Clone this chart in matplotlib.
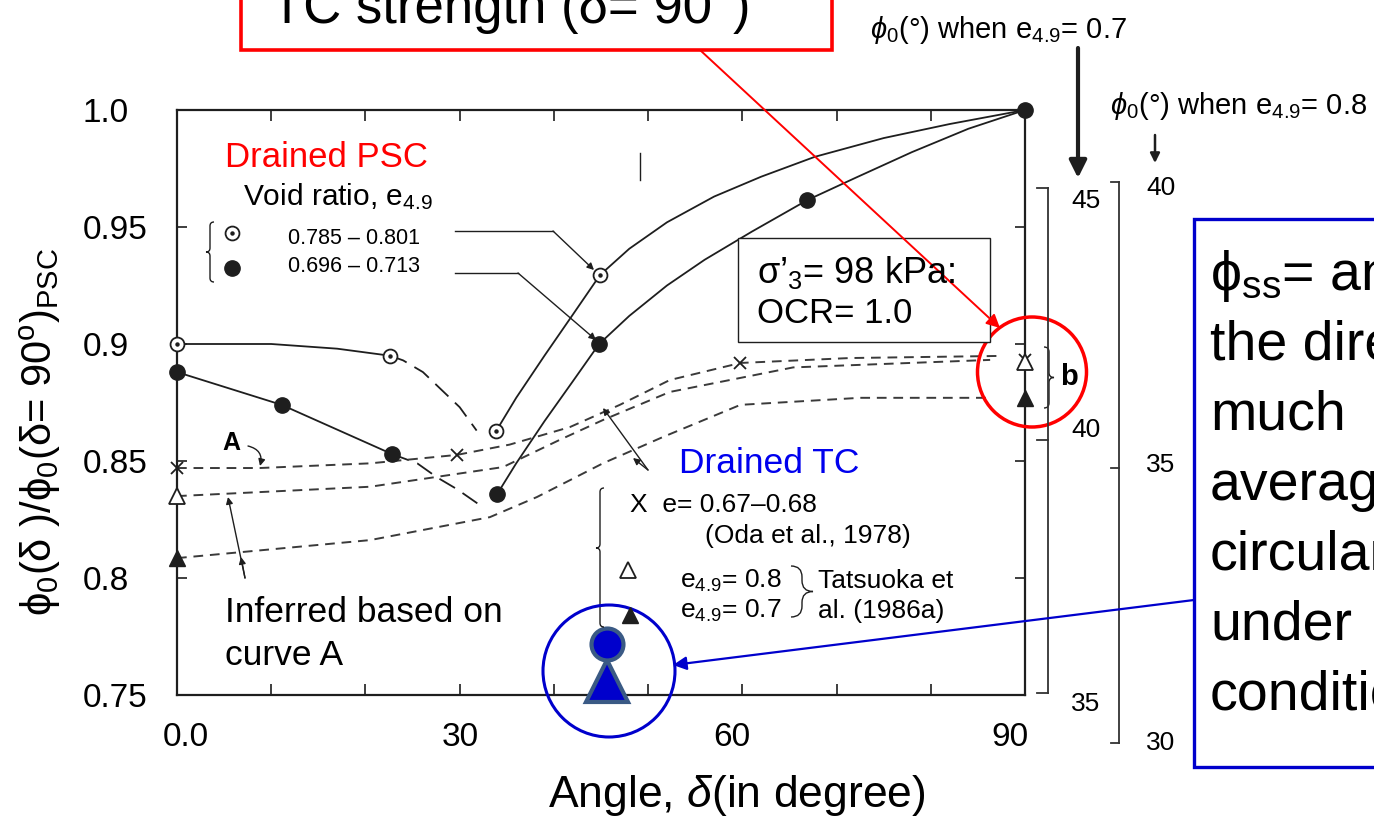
import matplotlib
matplotlib.use('Agg')
import matplotlib.pyplot as plt
from matplotlib.patches import Rectangle, Ellipse, PathPatch
from matplotlib.path import Path

W, H = 1374, 818

plt.rcParams['font.family'] = ['Liberation Sans', 'DejaVu Sans']
plt.rcParams['mathtext.fontset'] = 'custom'
plt.rcParams['mathtext.rm'] = 'Liberation Sans'
plt.rcParams['mathtext.it'] = 'Liberation Sans:italic'
plt.rcParams['mathtext.bf'] = 'Liberation Sans:bold'
plt.rcParams['mathtext.fallback'] = 'stixsans'

INK = '#1e1e1e'
RED = '#ff0000'
BLUE = '#0000cc'

# Drained PSC, loose sand (e4.9 = 0.785-0.801): measured points
psc_loose_x = [0, 22.6, 33.9, 44.9]
psc_loose_y = [0.900, 0.895, 0.863, 0.9295]
# Drained PSC, dense sand (e4.9 = 0.696-0.713): measured points
psc_dense_x = [0, 11.1, 22.8, 34.0, 44.8, 66.9, 90]
psc_dense_y = [0.888, 0.874, 0.853, 0.836, 0.900, 0.9615, 1.0]

# traced fitting curves through the PSC data
loose_flat_x = [0, 10, 17, 22.6]
loose_flat_y = [0.900, 0.900, 0.898, 0.895]
loose_drop_x = [22.6, 24.0, 26.1, 28.7, 30.0, 31.8]
loose_drop_y = [0.895, 0.893, 0.888, 0.878, 0.873, 0.863]
loose_rise_x = [33.9, 36, 39, 42, 44.9, 48, 52, 57, 62, 67.7, 75, 82, 90]
loose_rise_y = [0.863, 0.877, 0.895, 0.9125, 0.9295, 0.9407, 0.952, 0.963,
                0.9715, 0.980, 0.988, 0.994, 1.0]
dense_flat_x = [0, 11.1, 22.8]
dense_flat_y = [0.888, 0.874, 0.853]
dense_drop_x = [22.8, 25.5, 27.6, 29.7, 32.2]
dense_drop_y = [0.853, 0.849, 0.843, 0.838, 0.831]
dense_rise_x = [34.0, 36, 39, 42, 44.8, 48, 52, 56, 61, 66.9, 72, 78, 84, 90]
dense_rise_y = [0.836, 0.849, 0.867, 0.884, 0.900, 0.912, 0.925, 0.936,
                0.948, 0.9615, 0.971, 0.982, 0.992, 1.0]

# Drained TC curves (curve A and companions)
oda_curve_x = [0, 8.8, 20.5, 29.7, 35.3, 41.7, 47.0, 52.3, 59.8, 71.4, 87.3]
oda_curve_y = [0.847, 0.847, 0.849, 0.8526, 0.857, 0.8645, 0.874, 0.8846,
               0.8919, 0.894, 0.8949]
oda_x = [0, 29.7, 59.8, 90]
oda_y = [0.847, 0.8526, 0.8919, 0.893]
tc_loose_curve_x = [0, 20.5, 34.6, 40.6, 45.2, 52.3, 65.4, 86.3]
tc_loose_curve_y = [0.835, 0.839, 0.8474, 0.859, 0.8675, 0.8795, 0.890, 0.8932]
tc_loose_x = [0, 90]
tc_loose_y = [0.835, 0.8925]
tc_dense_curve_x = [0, 20.5, 33.2, 38.2, 45.2, 51.6, 59.8, 72.5, 86.3]
tc_dense_curve_y = [0.8085, 0.8162, 0.826, 0.8346, 0.849, 0.8603, 0.874,
                    0.877, 0.877]
tc_dense_x = [0, 90]
tc_dense_y = [0.8085, 0.877]

# phi_ss symbols
ss_x = [45.6]
ss_circle_y = [0.772]
ss_triangle_y = [0.756]

ytick_vals = [0.75, 0.80, 0.85, 0.90, 0.95, 1.0]
ytick_labels = ['0.75', '0.8', '0.85', '0.9', '0.95', '1.0']
xtick_vals = [0, 30, 60, 90]
xtick_labels = ['0.0', '30', '60', '90']
xtick_shift = [9, 1, -11, -15]

blue_lines = ['$\\mathrm{ϕ}_{\\mathrm{ss}}$= angle', 'the direction', 'much',
              'average', 'circular', 'under', 'conditions']

fig = plt.figure(figsize=(W / 100, H / 100), dpi=100)
ax = fig.add_axes([177 / W, 1 - 695 / H, (1025 - 177) / W, (695 - 110) / H])
ax.set_xlim(0, 90)
ax.set_ylim(0.75, 1.0)

solid = dict(color=INK, lw=1.3)
long_dash = dict(color=INK, lw=1.3, ls=(0, (10, 5)))
short_dash = dict(color='#3a3a3a', lw=1.4, ls=(0, (5, 3.5)))

ax.plot(loose_flat_x, loose_flat_y, **solid)
ax.plot(loose_drop_x, loose_drop_y, **long_dash)
ax.plot(loose_rise_x, loose_rise_y, **solid)
ax.plot(dense_flat_x, dense_flat_y, **solid)
ax.plot(dense_drop_x, dense_drop_y, **long_dash)
ax.plot(dense_rise_x, dense_rise_y, **solid)

ax.plot(oda_curve_x, oda_curve_y, **short_dash)
ax.plot(tc_loose_curve_x, tc_loose_curve_y, **short_dash)
ax.plot(tc_dense_curve_x, tc_dense_curve_y, **short_dash)

ax.plot(psc_loose_x, psc_loose_y, 'o', mfc='white', mec=INK, mew=1.3, ms=10,
        clip_on=False, zorder=4)
ax.plot(psc_loose_x, psc_loose_y, 'o', color=INK, ms=2.2, clip_on=False, zorder=5)
ax.plot(psc_dense_x, psc_dense_y, 'o', color=INK, ms=11, clip_on=False, zorder=4)
ax.plot(oda_x, oda_y, 'x', color=INK, ms=8, mew=1.3, clip_on=False, zorder=4)
ax.plot(tc_loose_x, tc_loose_y, '^', mfc='white', mec=INK, mew=1.3, ms=11,
        clip_on=False, zorder=4)
ax.plot(tc_dense_x, tc_dense_y, '^', color=INK, ms=11, clip_on=False, zorder=4)

ax.plot(ss_x, ss_triangle_y, '^', ms=30, mfc=BLUE, mec='#3a5a85', mew=3,
        clip_on=False, zorder=6)
ax.plot(ss_x, ss_circle_y, 'o', ms=23, mfc=BLUE, mec='#3a5a85', mew=3,
        clip_on=False, zorder=6)

for s in ax.spines.values():
    s.set_linewidth(1.6)
    s.set_color(INK)

ax.set_xticks(range(0, 91, 10))
ax.tick_params(axis='x', direction='in', top=True, bottom=True, length=8,
               width=1.2, color=INK, labelbottom=False)
for v, lab, dx in zip(xtick_vals, xtick_labels, xtick_shift):
    ax.annotate(lab, xy=(v, 0), xycoords=('data', 'axes fraction'),
                xytext=(dx * 0.72, -43 * 0.72), textcoords='offset points',
                ha='center', va='center', fontsize=24, annotation_clip=False)

ax.set_yticks(ytick_vals, labels=ytick_labels)
ax.tick_params(axis='y', direction='in', left=True, right=True, length=7,
               width=1.2, color=INK, labelsize=24, pad=67.7)
for t in ax.get_yticklabels():
    t.set_ha('left')

ax.set_xlabel('Angle, $\\mathit{δ}$(in degree)', fontsize=32)
ax.xaxis.set_label_coords((737 - 177) / 848, (695 - 795) / 585)
ax.xaxis.label.set_va('center')
ax.set_ylabel('ϕ$_0$(δ )/ϕ$_0$(δ= 90$^{\\mathrm{o}}$)$_{\\mathrm{PSC}}$', fontsize=30)
ax.yaxis.set_label_coords((40 - 177) / 848, (695 - 432) / 585)
ax.yaxis.label.set_va('center')

# annotation layer in pixel units (origin top-left)
ov = fig.add_axes([0, 0, 1, 1], zorder=5)
ov.set_xlim(0, W)
ov.set_ylim(H, 0)
ov.set_axis_off()


def arrow(p0, p1, color=INK, lw=1.0, size=10, style='-|>'):
    ov.annotate('', xy=p1, xytext=p0,
                arrowprops=dict(arrowstyle=style, color=color, lw=lw,
                                mutation_scale=size, shrinkA=0, shrinkB=0))


def brace(x_tip, y0, y1, w, y_tip=None, color=INK, lw=1.0):
    m = (y0 + y1) / 2 if y_tip is None else y_tip
    xm, xe, r = x_tip + w / 2, x_tip + w, abs(w) / 2
    verts = [(xe, y0), (xm, y0), (xm, y0 + r), (xm, m - r), (xm, m), (x_tip, m),
             (xm, m), (xm, m + r), (xm, y1 - r), (xm, y1), (xe, y1)]
    codes = [Path.MOVETO, Path.CURVE3, Path.CURVE3, Path.LINETO, Path.CURVE3,
             Path.CURVE3, Path.CURVE3, Path.CURVE3, Path.LINETO, Path.CURVE3,
             Path.CURVE3]
    ov.add_patch(PathPatch(Path(verts, codes), fill=False, ec=color, lw=lw))


# title box
ov.add_patch(Rectangle((241, -20), 591, 70, fc='white', ec=RED, lw=2.6))
ov.text(271, 23, 'TC strength (δ= 90°)', fontsize=38, va='baseline')
arrow((700, 50), (1000, 328), color=RED, lw=1.4, size=20)
ov.add_patch(Ellipse((1032, 372), 109, 110, fill=False, ec=RED, lw=2.5))

# secondary phi_0 scales
ov.text(870, 38, '$ϕ_0$(°) when e$_{4.9}$= 0.7', fontsize=21, va='baseline')
arrow((1078, 48), (1078, 178), lw=3, size=26)
ov.text(1110, 114, '$ϕ_0$(°) when e$_{4.9}$= 0.8', fontsize=21, va='baseline')
arrow((1155, 135), (1155, 163), lw=1.8, size=14)

ov.plot([1048, 1048], [188, 693], color='#333333', lw=1.3)
for yy in [188, 440, 693]:
    ov.plot([1037, 1048], [yy, yy], color='#333333', lw=1.3)
for lab, yy in zip(['45', '40', '35'], [201, 430, 704]):
    ov.text(1086, yy, lab, fontsize=19, ha='center', va='center')
ov.plot([1119, 1119], [182, 743], color='#333333', lw=1.3)
for yy in [182, 468, 743]:
    ov.plot([1111, 1119], [yy, yy], color='#333333', lw=1.3)
for lab, yy in zip(['40', '35', '30'], [188, 465, 743]):
    ov.text(1161, yy, lab, fontsize=19, ha='center', va='center')

brace(1054, 347, 408, -10)
ov.text(1069, 377, 'b', fontsize=21, fontweight='bold', ha='center', va='center')

# conditions box
ov.add_patch(Rectangle((738, 238), 252, 104, fc='white', ec=INK, lw=1.0))
ov.text(757, 283, 'σ’$_3$= 98 kPa:', fontsize=26, va='baseline')
ov.text(757, 323, 'OCR= 1.0', fontsize=25, va='baseline')

# PSC legend
ov.text(225, 167, 'Drained PSC', fontsize=25, color=RED, va='baseline')
ov.text(243, 205, 'Void ratio, e$_{4.9}$', fontsize=21.5, va='baseline')
brace(206, 222, 282, 8)
ov.plot([232], [233], 'o', mfc='white', mec=INK, mew=1.3, ms=10)
ov.plot([232], [233], 'o', color=INK, ms=2.2)
ov.plot([232], [268], 'o', color=INK, ms=11)
ov.text(288, 238, '0.785 – 0.801', fontsize=15.5, va='center')
ov.text(288, 266, '0.696 – 0.713', fontsize=15.5, va='center')
ov.plot([455, 553], [231, 231], color=INK, lw=1.0)
arrow((553, 231), (594, 270))
ov.plot([455, 518], [273, 273], color=INK, lw=1.0)
arrow((518, 273), (596, 340))
ov.plot([640, 640], [153, 180], color=INK, lw=1.0)

# curve A markers
ov.text(231, 443, 'A', fontsize=18, fontweight='bold', ha='center', va='center')
ov.annotate('', xy=(260, 466), xytext=(248, 446),
            arrowprops=dict(arrowstyle='-|>', color=INK, lw=1.0, mutation_scale=10,
                            shrinkA=0, shrinkB=0, connectionstyle='arc3,rad=-0.5'))
arrow((245, 578), (228, 497))
arrow((245, 578), (241, 557))
ov.text(225, 622, 'Inferred based on', fontsize=25.5, va='baseline')
ov.text(225, 665, 'curve A', fontsize=25.5, va='baseline')
arrow((648, 470), (603, 408))
arrow((648, 470), (633, 458))

# TC legend
ov.text(679, 473, 'Drained TC', fontsize=25.5, color='#0000ee', va='baseline')
brace(596, 488, 627, 8, y_tip=548)
ov.text(630, 512, 'X  e= 0.67–0.68', fontsize=19, va='baseline')
ov.text(705, 543, '(Oda et al., 1978)', fontsize=19, va='baseline')
ov.plot([628], [570], '^', mfc='white', mec=INK, mew=1.3, ms=11)
ov.plot([630], [615], '^', color=INK, ms=11)
ov.text(680, 588, 'e$_{4.9}$= 0.8', fontsize=19, va='baseline')
ov.text(680, 618, 'e$_{4.9}$= 0.7', fontsize=19, va='baseline')
brace(813, 566, 617, -22)
ov.text(818, 588, 'Tatsuoka et', fontsize=19, va='baseline')
ov.text(818, 618, 'al. (1986a)', fontsize=19, va='baseline')

# phi_ss call-out
ov.add_patch(Ellipse((609, 671), 132, 132, fill=False, ec=BLUE, lw=2.2))
ov.add_patch(Rectangle((1194, 219), 200, 548, fc='white', ec=BLUE, lw=2.4))
for i, line in enumerate(blue_lines):
    ov.text(1210, 290 + 70 * i, line, fontsize=40, va='baseline')
arrow((1194, 600), (673, 665), color=BLUE, lw=1.6, size=20)

fig.savefig('out.png', dpi=100)
